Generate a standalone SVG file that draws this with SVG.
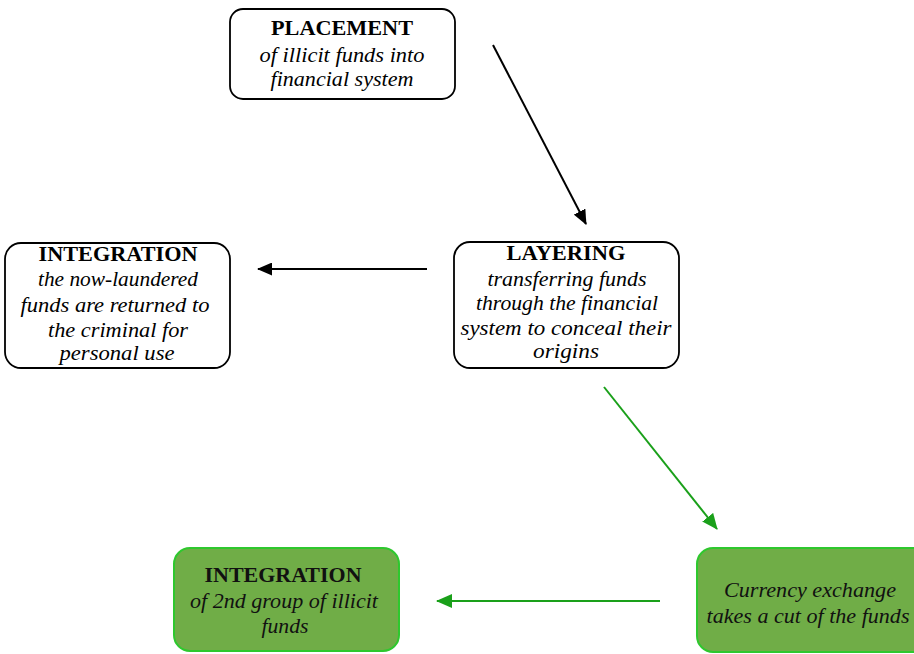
<svg xmlns="http://www.w3.org/2000/svg" width="914" height="654" viewBox="0 0 914 654">
<style>
.box{fill:#fff;stroke:#000;stroke-width:1.8}
.gbox{fill:#70AD47;stroke:#2ec82e;stroke-width:2}
.t{font-family:"Liberation Serif","Times New Roman",serif;font-size:22px;text-anchor:middle;fill:#000}
.b{font-weight:bold}
.i{font-style:italic}
.g{fill:#111}
.k{stroke:#000;stroke-width:2;fill:none}
.gl{stroke:#1aa01a;stroke-width:2;fill:none}
</style>
<defs>
<marker id="ak" markerWidth="15" markerHeight="13" refX="14" refY="6.5" orient="auto" markerUnits="userSpaceOnUse"><path d="M0,0 L15,6.5 L0,13 Z" fill="#000"/></marker>
<marker id="ag" markerWidth="16" markerHeight="14" refX="15" refY="7" orient="auto" markerUnits="userSpaceOnUse"><path d="M0,0 L16,7 L0,14 Z" fill="#1aa01a"/></marker>
</defs>
<rect width="914" height="654" fill="#fff"/>
<g id="placement">
<rect class="box" x="230" y="9" width="225" height="90" rx="13"/>
<text class="t b" x="342" y="35" textLength="142" lengthAdjust="spacingAndGlyphs">PLACEMENT</text>
<text class="t i" x="342" y="62" textLength="165" lengthAdjust="spacingAndGlyphs">of illicit funds into</text>
<text class="t i" x="342" y="86" textLength="143" lengthAdjust="spacingAndGlyphs">financial system</text>
</g>
<g id="layering">
<rect class="box" x="454" y="242" width="225" height="126" rx="16"/>
<text class="t b" x="566" y="260" textLength="119" lengthAdjust="spacingAndGlyphs">LAYERING</text>
<text class="t i" x="567" y="286" textLength="159" lengthAdjust="spacingAndGlyphs">transferring funds</text>
<text class="t i" x="567" y="310" textLength="182" lengthAdjust="spacingAndGlyphs">through the financial</text>
<text class="t i" x="566" y="335" textLength="211" lengthAdjust="spacingAndGlyphs">system to conceal their</text>
<text class="t i" x="566" y="358" textLength="66" lengthAdjust="spacingAndGlyphs">origins</text>
</g>
<g id="integration1">
<rect class="box" x="5" y="243" width="225" height="125" rx="16"/>
<text class="t b" x="118" y="261" textLength="159" lengthAdjust="spacingAndGlyphs">INTEGRATION</text>
<text class="t i" x="118" y="286" textLength="160" lengthAdjust="spacingAndGlyphs">the now-laundered</text>
<text class="t i" x="115" y="312" textLength="189" lengthAdjust="spacingAndGlyphs">funds are returned to</text>
<text class="t i" x="118" y="337" textLength="140" lengthAdjust="spacingAndGlyphs">the criminal for</text>
<text class="t i" x="117" y="360" textLength="115" lengthAdjust="spacingAndGlyphs">personal use</text>
</g>
<g id="currency">
<rect class="gbox" x="697" y="548" width="232" height="104" rx="16"/>
<text class="t i g" x="810" y="597" textLength="172" lengthAdjust="spacingAndGlyphs">Currency exchange</text>
<text class="t i g" x="808" y="623" textLength="203" lengthAdjust="spacingAndGlyphs">takes a cut of the funds</text>
</g>
<g id="integration2">
<rect class="gbox" x="174" y="548" width="225" height="103" rx="16"/>
<text class="t b g" x="283" y="582" textLength="157" lengthAdjust="spacingAndGlyphs">INTEGRATION</text>
<text class="t i g" x="284" y="608" textLength="188" lengthAdjust="spacingAndGlyphs">of 2nd group of illicit</text>
<text class="t i g" x="285" y="633" textLength="47" lengthAdjust="spacingAndGlyphs">funds</text>
</g>
<g id="connectors">
<line class="k" x1="493" y1="45" x2="586" y2="224" marker-end="url(#ak)"/>
<line class="k" x1="427" y1="269" x2="258" y2="269" marker-end="url(#ak)"/>
<line class="gl" x1="604" y1="387" x2="717" y2="529" marker-end="url(#ag)"/>
<line class="gl" x1="660" y1="601" x2="437" y2="601" marker-end="url(#ag)"/>
</g>
</svg>
